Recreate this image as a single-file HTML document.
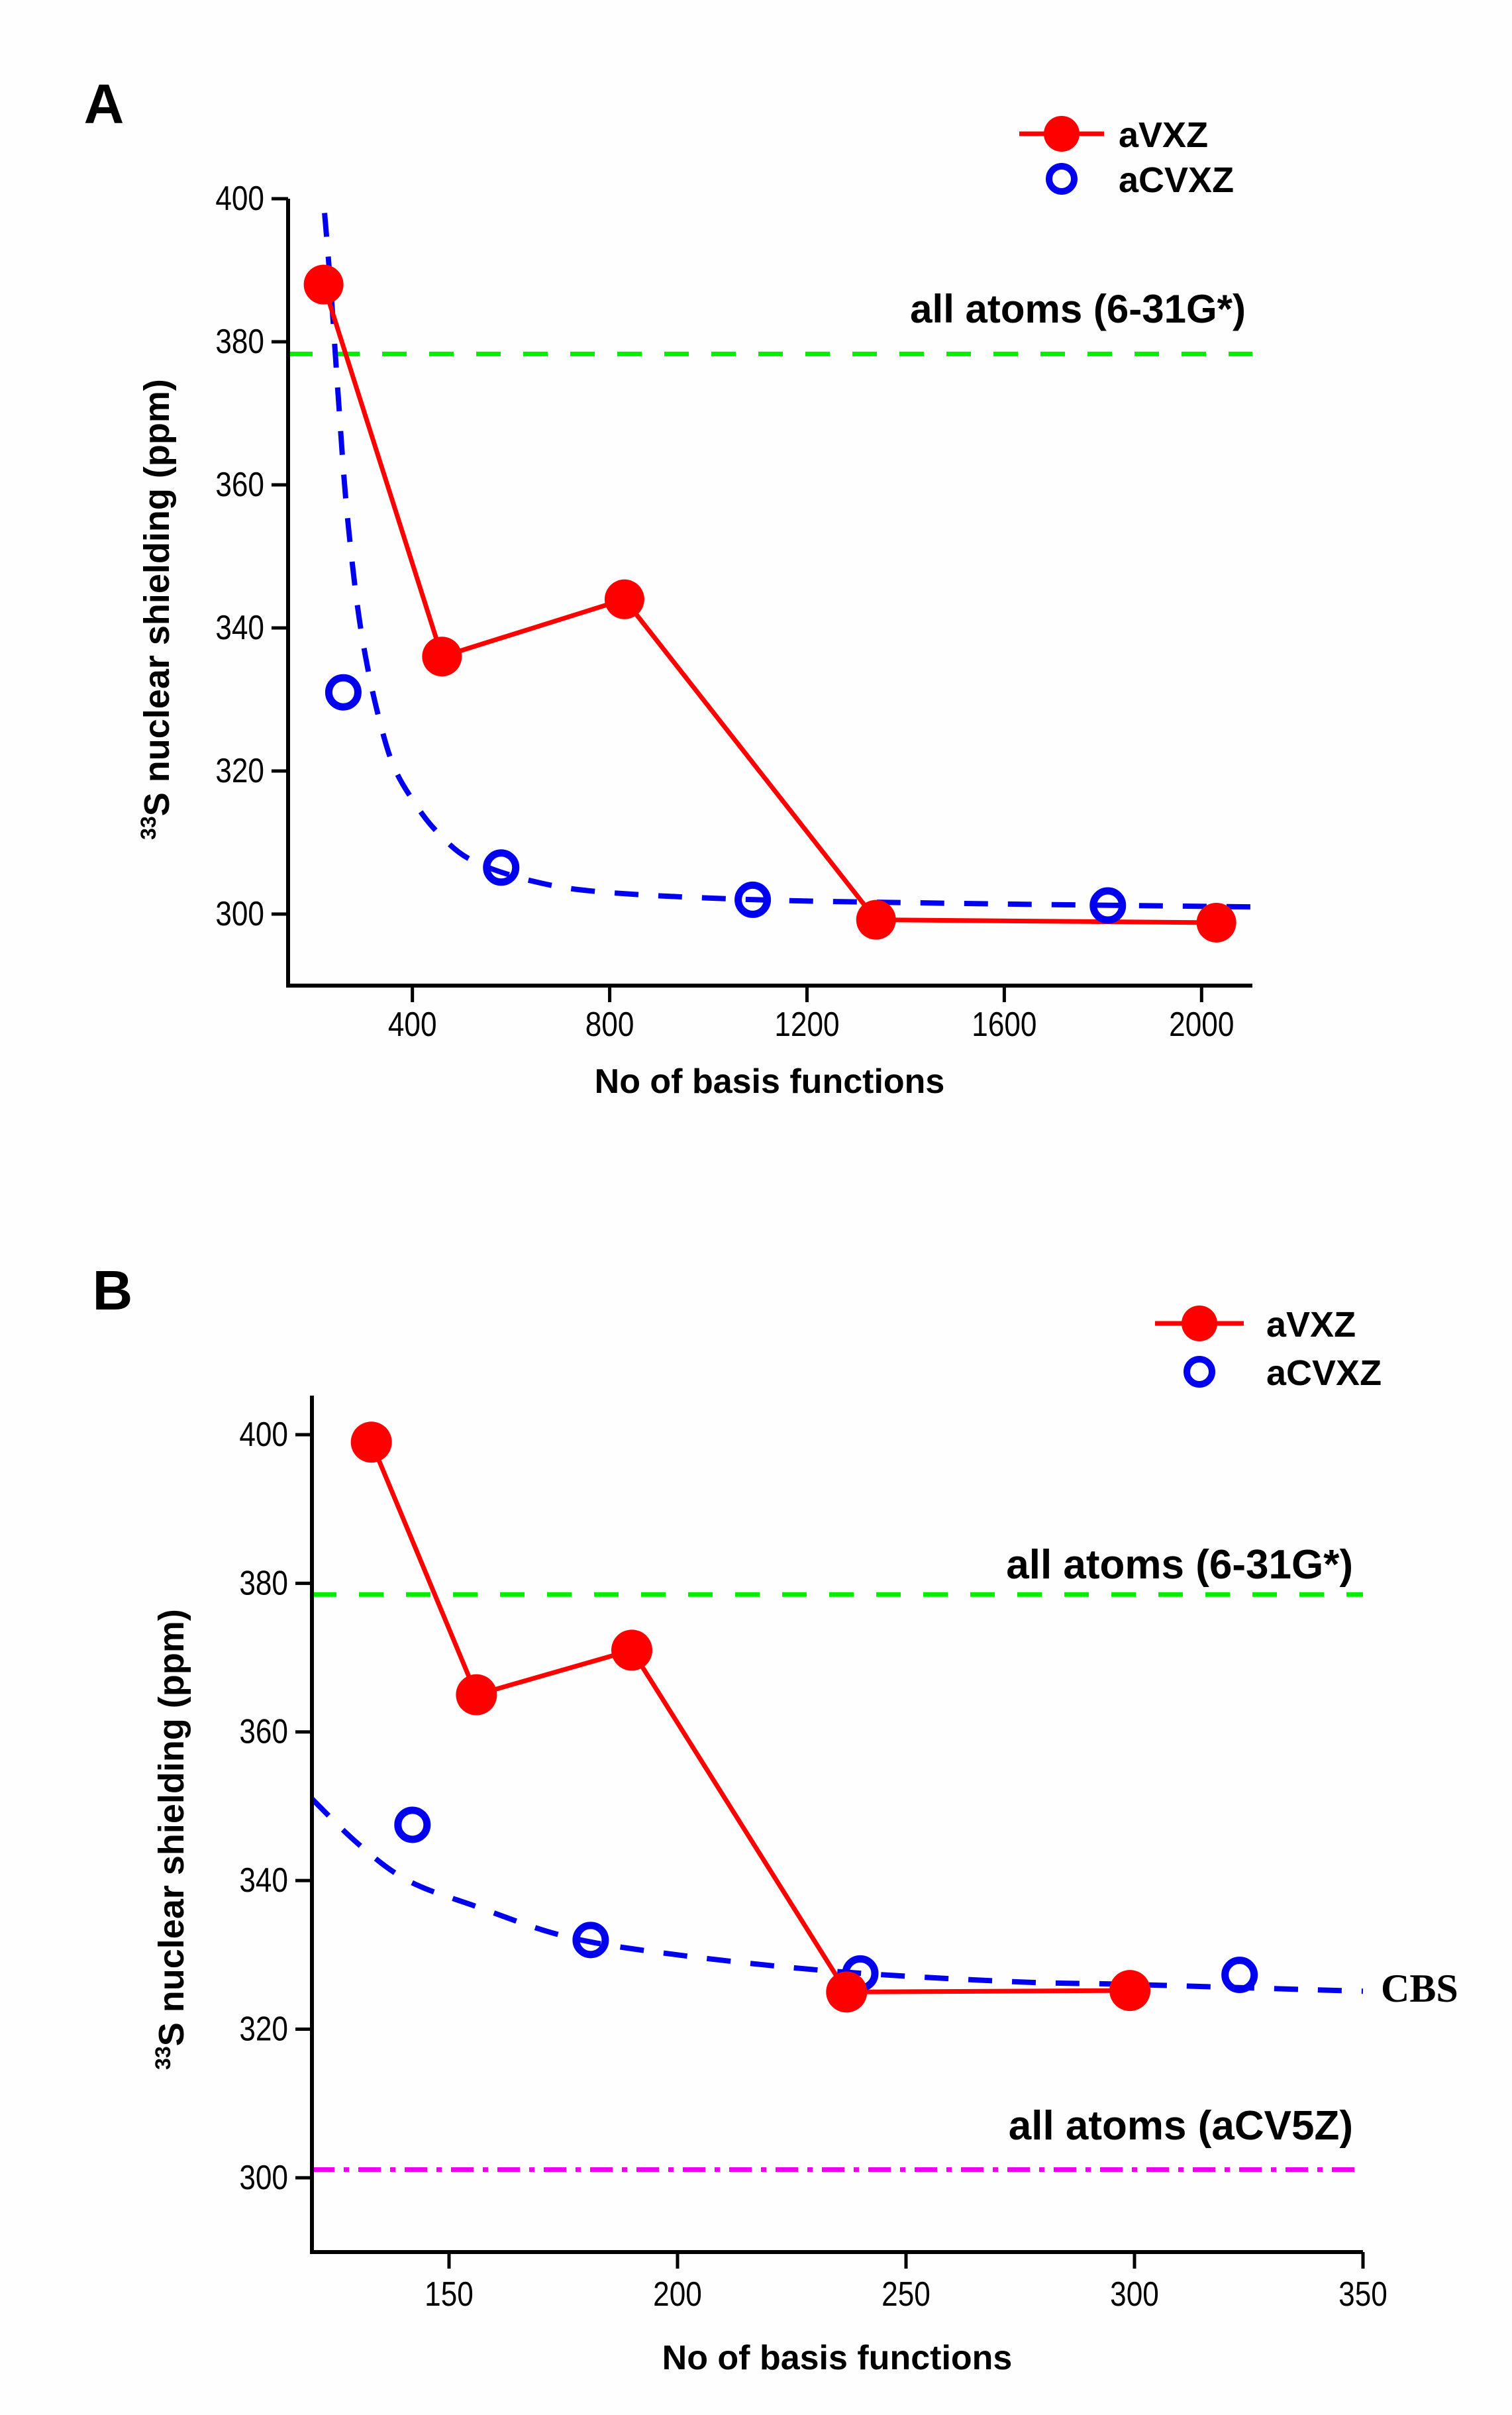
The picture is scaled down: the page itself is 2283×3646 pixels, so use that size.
<!DOCTYPE html>
<html><head><meta charset="utf-8">
<style>
html,body{margin:0;padding:0;background:#fff;}
svg{display:block;}
text{font-family:"Liberation Sans",Arial,sans-serif;}
text.serif{font-family:"Liberation Serif","DejaVu Serif",serif;}
</style></head>
<body>
<svg id="fig" width="2283" height="3646" viewBox="0 0 2283 3646" xmlns="http://www.w3.org/2000/svg">
<rect x="0" y="0" width="2283" height="3646" fill="#fefefe"/>
<g id="panelA"></g>
<g id="panelB"></g>
</svg>
<script>
// ---------- Panel A data ----------
const aXTicks = [400, 800, 1200, 1600, 2000];
const aYTicks = [300, 320, 340, 360, 380, 400];
const aVXZ_x = [220, 460, 830, 1340, 2030];
const aVXZ_y = [388, 336, 344, 299.2, 298.8];
const aCVXZ_x = [260, 580, 1090, 1810];
const aCVXZ_y = [331, 306.5, 302, 301.2];
const aFit_x = [222, 235, 250, 265, 285, 305, 330, 360, 400, 450, 521, 650, 800, 1100, 1500, 2103];
const aFit_y = [398, 387, 372, 358, 345, 336, 328, 321, 316, 311.5, 307.5, 304.5, 303, 302, 301.5, 301];
const aRef631 = 378.3;

// ---------- Panel B data ----------
const bXTicks = [150, 200, 250, 300, 350];
const bYTicks = [300, 320, 340, 360, 380, 400];
const bVXZ_x = [133, 156, 190, 237, 299];
const bVXZ_y = [399, 365, 371, 325, 325.2];
const bCVXZ_x = [142, 181, 240, 323];
const bCVXZ_y = [347.5, 332, 327.5, 327.3];
const bFit_x = [120, 130, 141, 156, 176, 200, 234, 273, 300, 350];
const bFit_y = [351, 345, 340, 336.5, 332.4, 330, 327.8, 326.4, 326, 325.1];
const bRef631 = 378.5;
const bRefCV5Z = 301.1;

const NS = "http://www.w3.org/2000/svg";
function mk(parent, tag, attrs, txt) {
  const e = document.createElementNS(NS, tag);
  for (const k in attrs) e.setAttribute(k, attrs[k]);
  if (txt !== undefined) e.textContent = txt;
  parent.appendChild(e);
  return e;
}
function smoothPath(pts) {
  let d = "M" + pts[0][0].toFixed(1) + " " + pts[0][1].toFixed(1);
  for (let i = 0; i < pts.length - 1; i++) {
    const p0 = pts[i - 1] || pts[i], p1 = pts[i], p2 = pts[i + 1], p3 = pts[i + 2] || p2;
    const c1 = [p1[0] + (p2[0] - p0[0]) / 6, p1[1] + (p2[1] - p0[1]) / 6];
    const c2 = [p2[0] - (p3[0] - p1[0]) / 6, p2[1] - (p3[1] - p1[1]) / 6];
    d += " C" + c1[0].toFixed(1) + " " + c1[1].toFixed(1) + " " + c2[0].toFixed(1) + " " + c2[1].toFixed(1) + " " + p2[0].toFixed(1) + " " + p2[1].toFixed(1);
  }
  return d;
}

function drawPanel(g, cfg) {
  const sx = v => cfg.x0 + (v - cfg.xmin) / (cfg.xmax - cfg.xmin) * (cfg.x1 - cfg.x0);
  const sy = v => cfg.y0 - (v - cfg.ymin) / (cfg.ymax - cfg.ymin) * (cfg.y0 - cfg.y1);

  let t = mk(g, "text", {x: cfg.letterX, y: cfg.letterY, "font-size": 84, "font-weight": "bold", "text-anchor": "middle"}, cfg.letter);
  
  

  let l = mk(g, "line", {x1: cfg.x0, x2: cfg.x1, y1: sy(cfg.ref631), y2: sy(cfg.ref631), stroke: "#00ee00", "stroke-width": 7, "stroke-dasharray": "37 34"});
  
  
  t = mk(g, "text", {x: cfg.labelRight, y: cfg.ref631LabelY, "font-size": cfg.refFont, "font-weight": "bold", "text-anchor": "end"}, "all atoms (6-31G*)");
  
  
  if (cfg.refCV5Z !== undefined) {
    l = mk(g, "line", {x1: cfg.x0, x2: cfg.x1, y1: sy(cfg.refCV5Z), y2: sy(cfg.refCV5Z), stroke: "#ee00ee", "stroke-width": 7, "stroke-dasharray": "34 14 8 14"});
    
    
    t = mk(g, "text", {x: cfg.labelRight, y: cfg.cv5zLabelY, "font-size": cfg.refFont, "font-weight": "bold", "text-anchor": "end"}, "all atoms (aCV5Z)");
    
    
  }

  const fpts = cfg.fitX.map((v, i) => [sx(v), sy(cfg.fitY[i])]);
  let p = mk(g, "path", {d: smoothPath(fpts), fill: "none", stroke: "#0000ee", "stroke-width": 8, "stroke-dasharray": "36 30"});
  
  

  let d = cfg.vx.map((v, i) => (i ? "L" : "M") + sx(v).toFixed(1) + " " + sy(cfg.vy[i]).toFixed(1)).join(" ");
  p = mk(g, "path", {d: d, fill: "none", stroke: "#ff0000", "stroke-width": 7});
  
  

  cfg.cx.forEach((v, i) => {
    const c = mk(g, "circle", {cx: sx(v), cy: sy(cfg.cy[i]), r: 22, fill: "none", stroke: "#0000ee", "stroke-width": 11});
    
    
  });
  cfg.vx.forEach((v, i) => {
    const c = mk(g, "circle", {cx: sx(v), cy: sy(cfg.vy[i]), r: cfg.mr, fill: "#ff0000"});
    
    
  });

  if (cfg.cbs) {
    t = mk(g, "text", {x: cfg.cbs[0], y: cfg.cbs[1], "font-size": 60, "font-weight": "bold", "class": "serif"}, "CBS");
    
    
  }

  l = mk(g, "line", {x1: cfg.x0, x2: cfg.x0, y1: cfg.axTop, y2: cfg.y0 + 3, stroke: "#000", "stroke-width": 6});
  
  
  l = mk(g, "line", {x1: cfg.x0 - 3, x2: cfg.x1, y1: cfg.y0, y2: cfg.y0, stroke: "#000", "stroke-width": 6});
  
  

  cfg.yt.forEach(v => {
    const tk = mk(g, "line", {x1: cfg.x0 - 25, x2: cfg.x0, y1: sy(v), y2: sy(v), stroke: "#000", "stroke-width": 5});
    
    
    const lb = mk(g, "text", {x: cfg.x0 - 36, y: sy(v) + 17, "font-size": 48, "text-anchor": "end", transform: "translate(" + (cfg.x0 - 36) + " " + (sy(v) + 17) + ") scale(0.92 1.08) translate(" + (-(cfg.x0 - 36)) + " " + (-(sy(v) + 17)) + ")"}, String(v));
    
    
  });
  cfg.xt.forEach(v => {
    const tk = mk(g, "line", {x1: sx(v), x2: sx(v), y1: cfg.y0, y2: cfg.y0 + 25, stroke: "#000", "stroke-width": 5});
    
    
    const lb = mk(g, "text", {x: sx(v), y: cfg.xtY, "font-size": 48, "text-anchor": "middle", transform: "translate(" + sx(v) + " " + cfg.xtY + ") scale(0.92 1.08) translate(" + (-sx(v)) + " " + (-cfg.xtY) + ")"}, String(v));
    
    
  });

  t = mk(g, "text", {x: cfg.xTitle[0], y: cfg.xTitle[1], "font-size": 52, "font-weight": "bold", "text-anchor": "middle"}, "No of basis functions");
  
  

  const yt = mk(g, "text", {x: 0, y: 0, "font-size": 54, "font-weight": "bold", "text-anchor": "middle", transform: "translate(" + cfg.yTitle[0] + "," + cfg.yTitle[1] + ") rotate(-90)"});
  
  
  mk(yt, "tspan", {"font-size": 32, dy: -20}, "33");
  mk(yt, "tspan", {dy: 20}, "S nuclear shielding (ppm)");

  const lg = mk(g, "g", {});
  
  
  const L = cfg.legend;
  mk(lg, "line", {x1: L.lx0, x2: L.lx1, y1: L.y1, y2: L.y1, stroke: "#ff0000", "stroke-width": 7});
  mk(lg, "circle", {cx: (L.lx0 + L.lx1) / 2, cy: L.y1, r: 27, fill: "#ff0000"});
  let le = mk(lg, "text", {x: L.tx, y: L.y1 + 20, "font-size": 54, "font-weight": "bold"}, "aVXZ");
  
  
  mk(lg, "circle", {cx: (L.lx0 + L.lx1) / 2, cy: L.y2, r: 19, fill: "none", stroke: "#0000ee", "stroke-width": 10});
  le = mk(lg, "text", {x: L.tx, y: L.y2 + 20, "font-size": 54, "font-weight": "bold"}, "aCVXZ");
  
  
}

drawPanel(document.getElementById("panelA"), {
  x0: 435, x1: 1891, y0: 1488, y1: 300, axTop: 300,
  xmin: 148, xmax: 2103, ymin: 290, ymax: 400,
  xt: aXTicks, yt: aYTicks,
  vx: aVXZ_x, vy: aVXZ_y, cx: aCVXZ_x, cy: aCVXZ_y, fitX: aFit_x, fitY: aFit_y,
  ref631: aRef631, labelRight: 1881, ref631LabelY: 487, refFont: 60,
  letter: "A", letterX: 157, letterY: 186, mr: 30,
  xtY: 1564, xTitle: [1162, 1650], yTitle: [255, 920],
  legend: {lx0: 1539, lx1: 1667, y1: 202, y2: 270, tx: 1689}
});
drawPanel(document.getElementById("panelB"), {
  x0: 471, x1: 2058, y0: 3400, y1: 2166, axTop: 2107,
  xmin: 120, xmax: 350, ymin: 290, ymax: 400,
  xt: bXTicks, yt: bYTicks,
  vx: bVXZ_x, vy: bVXZ_y, cx: bCVXZ_x, cy: bCVXZ_y, fitX: bFit_x, fitY: bFit_y,
  ref631: bRef631, refCV5Z: bRefCV5Z, labelRight: 2043, ref631LabelY: 2383, cv5zLabelY: 3230, refFont: 62,
  cbs: [2085, 3022],
  letter: "B", letterX: 170, letterY: 1977, mr: 31,
  xtY: 3481, xTitle: [1264, 3577], yTitle: [277, 2777],
  legend: {lx0: 1744, lx1: 1878, y1: 1998, y2: 2071, tx: 1912}
});
</script>
</body></html>
